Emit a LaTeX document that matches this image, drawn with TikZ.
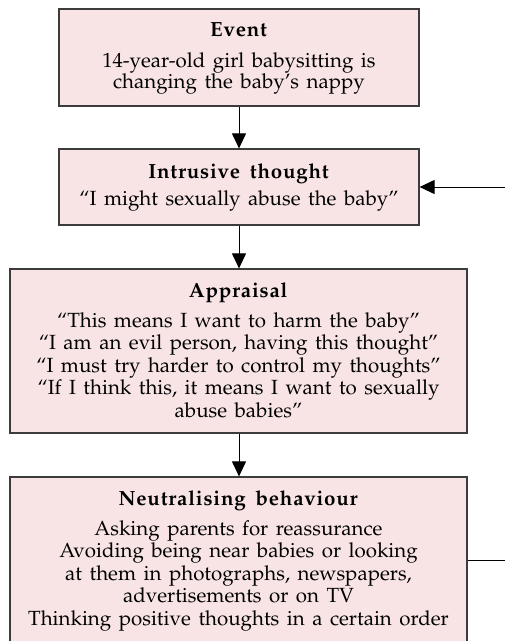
\documentclass[tikz,border=0pt]{standalone}
\usepackage[T1]{fontenc}
\usepackage{mathpazo}
\usetikzlibrary{arrows.meta}
\definecolor{boxfill}{RGB}{248,228,229}
\definecolor{boxline}{RGB}{60,60,60}
\def\spcd#1{\spcdA#1\relax}
\def\spcdA#1{\ifx#1\relax\else#1\kern0.8pt\relax\expandafter\spcdA\fi}
\newcommand\bodyfont{\fontsize{20.5}{22.5}\selectfont\spaceskip=7.5pt plus 1pt minus 1pt\relax}
\newcommand\headfont{\fontsize{20.5}{22.5}\selectfont\bfseries\spaceskip=9pt plus 1pt minus 1pt\relax}
\tikzset{
  box/.style={draw=boxline, line width=1.2pt, fill=boxfill, rectangle, inner sep=0pt},
  txt/.style={inner sep=0pt, anchor=base, font=\bodyfont},
  head/.style={txt, font=\headfont},
  conn/.style={line width=1pt, -{Triangle[width=14pt,length=15pt]}},
  plain/.style={line width=1pt},
}
\begin{document}
\begin{tikzpicture}[x=1pt,y=-1pt]
\useasboundingbox (0,0) rectangle (505,641);
\clip (0,0) rectangle (505,641);
% boxes
\node[box, minimum width=360pt, minimum height=97pt] (event) at (239,57.5) {};
\node[box, minimum width=360pt, minimum height=76pt] (intr) at (239,187) {};
\node[box, minimum width=457pt, minimum height=164pt] (appr) at (238.5,351) {};
\node[box, minimum width=457pt, minimum height=190pt] (neut) at (238.5,572) {};
% texts
\node[head] (t1h) at (239,36) {\spcd{Event}};
\node[txt] (t1a) at (239,67) {14-year-old girl babysitting is};
\node[txt] (t1b) at (239,88) {changing the baby's nappy};
\node[head] (t2h) at (239,178) {\spcd{Intrusive} \spcd{thought}};
\node[txt] (t2a) at (239,205) {``I might sexually abuse the baby''};
\node[head] (t3h) at (238.5,297) {\spcd{Appraisal}};
\node[txt] (t3a) at (238.5,327) {``This means I want to harm the baby''};
\node[txt] (t3b) at (238.5,349.5) {``I am an evil person, having this thought''};
\node[txt] (t3c) at (238.5,372) {``I must try harder to control my thoughts''};
\node[txt] (t3d) at (238.5,394.5) {``If I think this, it means I want to sexually};
\node[txt] (t3e) at (238.5,417) {abuse babies''};
\node[head] (t4h) at (238.5,505) {\spcd{Neutralising} \spcd{behaviour}};
\node[txt] (t4a) at (238.5,535) {Asking parents for reassurance};
\node[txt] (t4b) at (238.5,557.5) {Avoiding being near babies or looking};
\node[txt] (t4c) at (238.5,580) {at them in photographs, newspapers,};
\node[txt] (t4d) at (238.5,602.5) {advertisements or on TV};
\node[txt] (t4e) at (238.5,625) {Thinking positive thoughts in a certain order};
% connectors
\draw[conn] (event.south) -- (intr.north);
\draw[conn] (intr.south) -- (appr.north -| intr.south);
\draw[conn] (appr.south -| intr.south) -- (neut.north -| intr.south);
\coordinate (fbin) at (505,187);
\coordinate (fbout) at (505,560);
\draw[conn] (fbin) -- (intr.east);
\draw[plain] (fbout -| neut.east) -- (fbout);
\end{tikzpicture}
\end{document}
